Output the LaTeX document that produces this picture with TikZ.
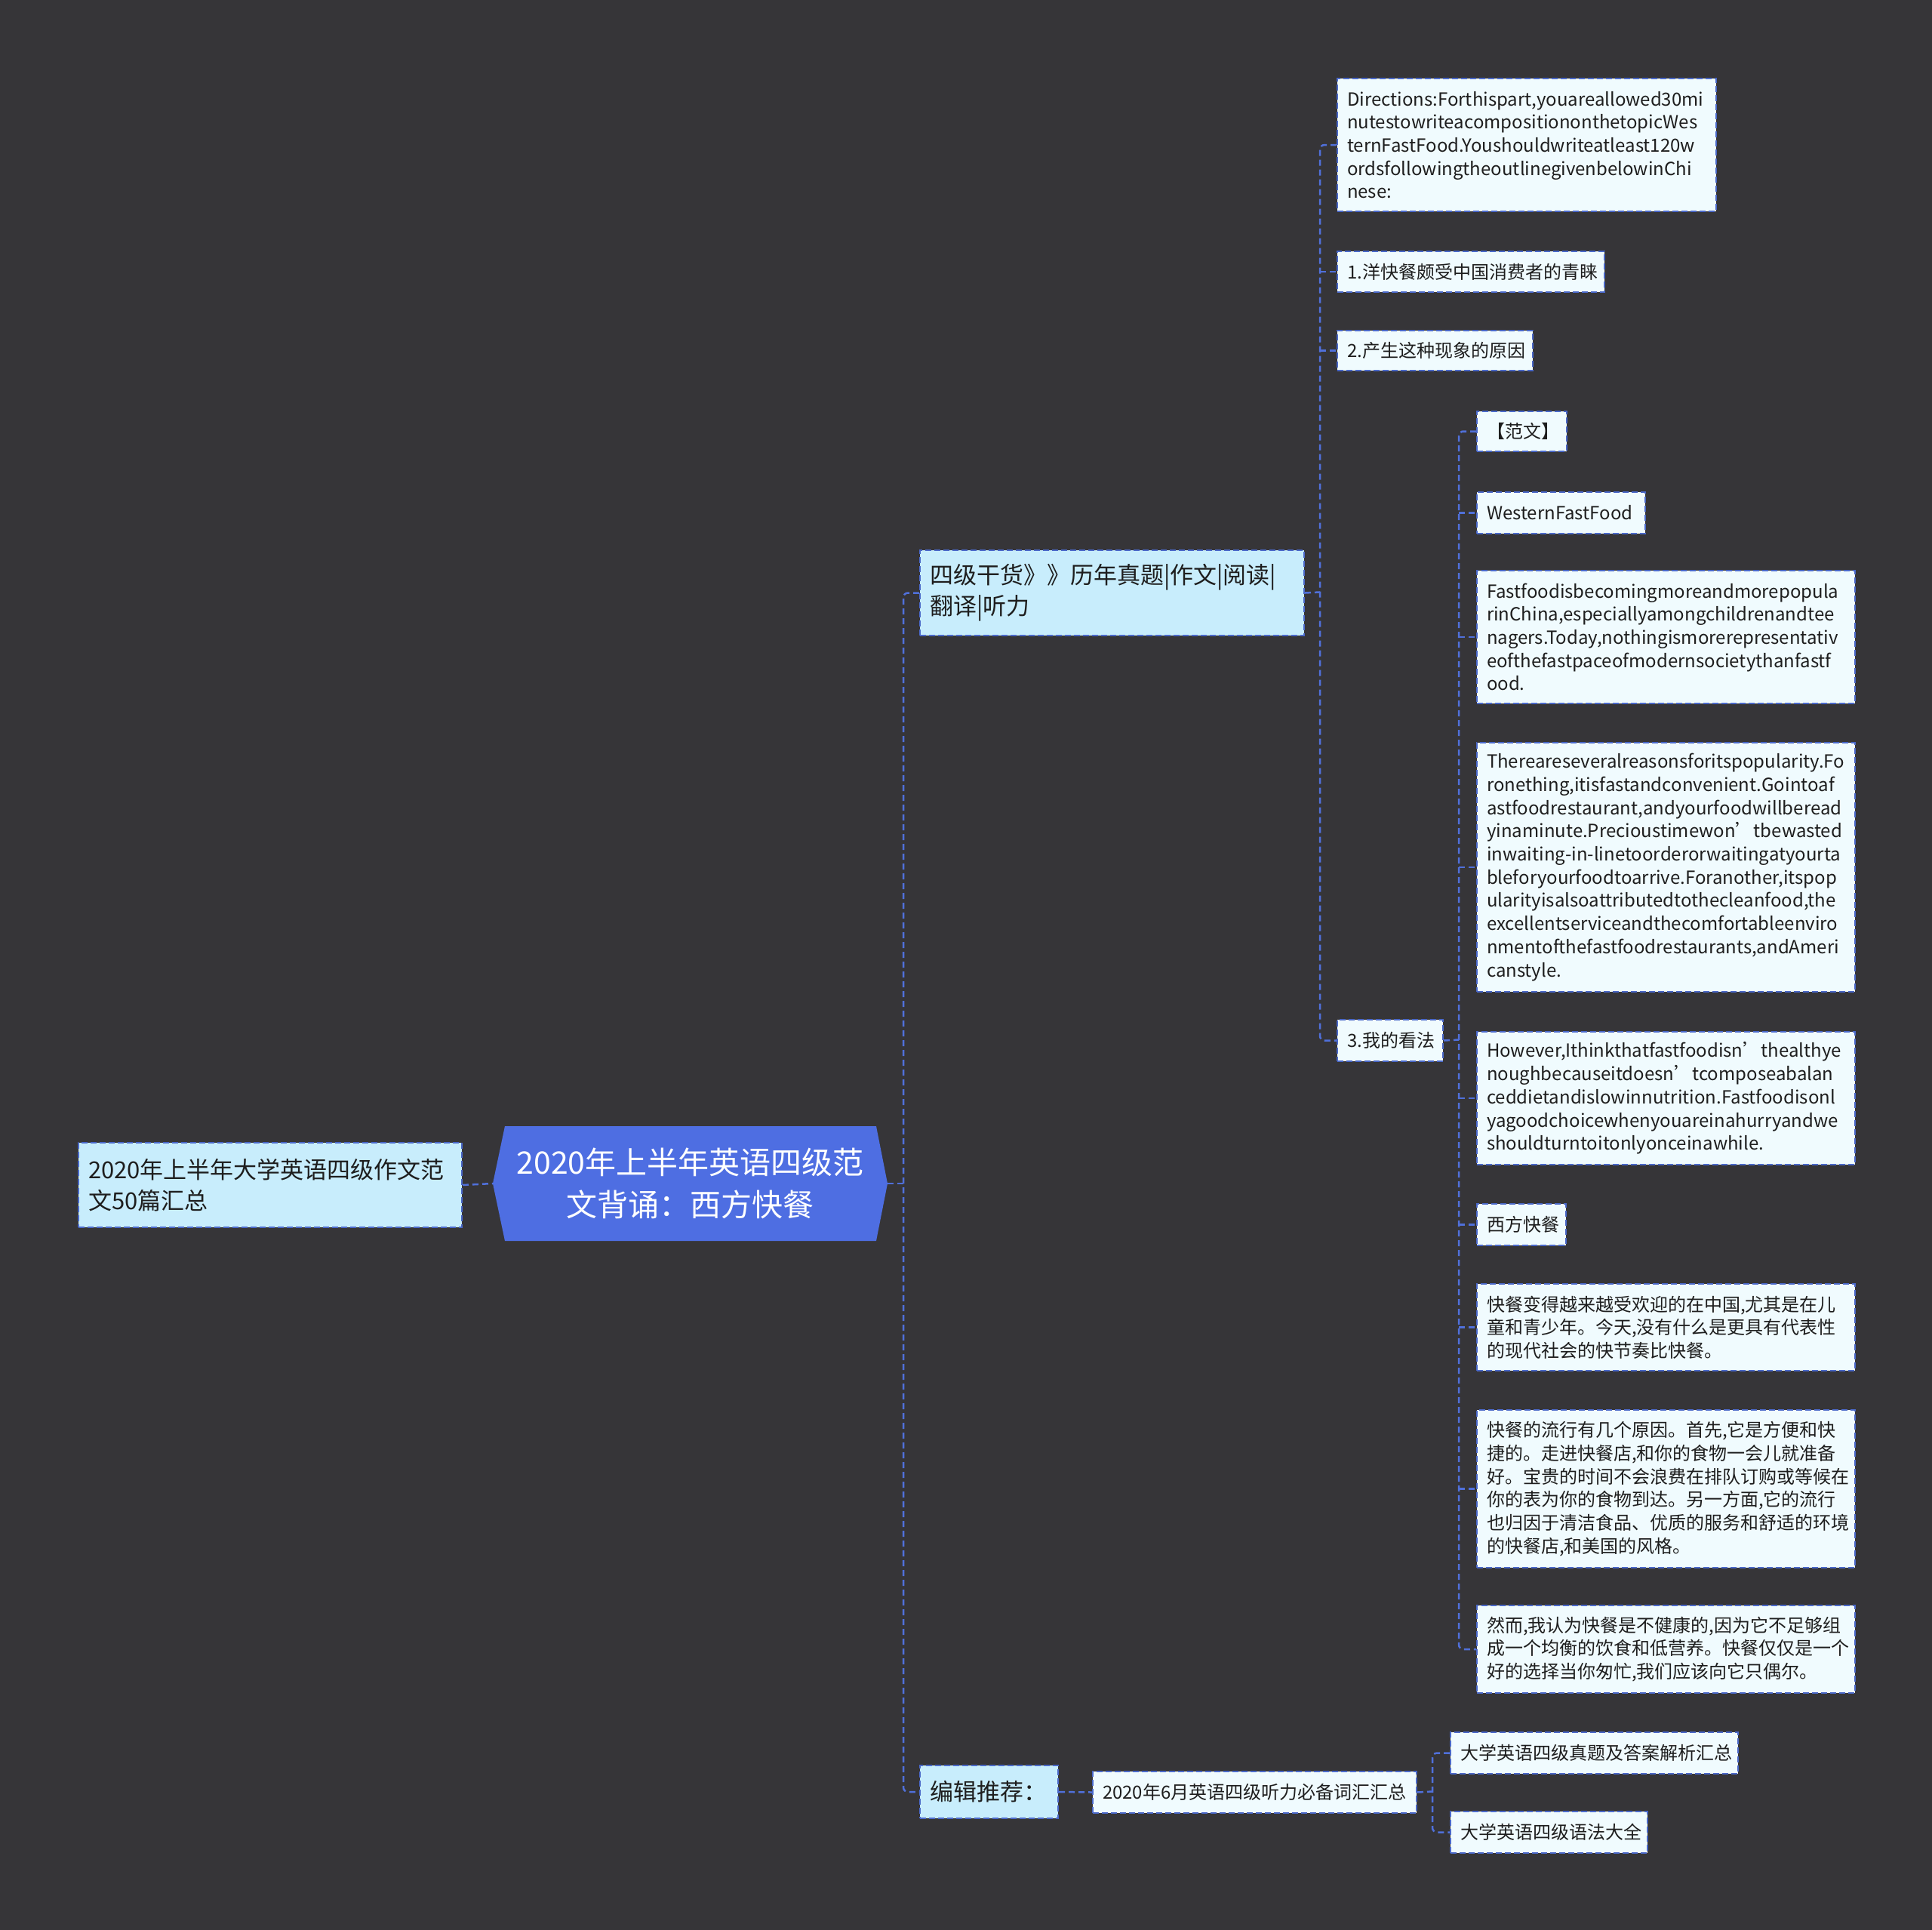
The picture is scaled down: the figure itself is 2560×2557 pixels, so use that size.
\documentclass[tikz,border=0pt]{standalone}
\usepackage{fontspec}
\setmainfont{Noto Sans CJK SC}[HyphenChar=None]
\definecolor{bgc}{RGB}{54,53,56}
\definecolor{rootc}{RGB}{78,110,226}
\definecolor{lvlc}{RGB}{200,237,252}
\definecolor{leafc}{RGB}{240,251,254}
\definecolor{bordc}{RGB}{74,104,200}
\definecolor{connc}{RGB}{80,112,218}
\definecolor{txtc}{RGB}{30,30,30}
\newcommand{\leaffont}{\fontsize{24}{30.7}\selectfont}
\newcommand{\lvlfont}{\fontsize{31}{41}\selectfont}
\newcommand{\rootfont}{\fontsize{41}{56}\selectfont}
\tikzset{
  box/.style={draw=bordc, line width=2pt, dash pattern=on 8pt off 4pt, anchor=north west,
    inner xsep=13pt, inner ysep=0pt, align=left, text=txtc},
  leafbox/.style={box, fill=leafc, font=\leaffont},
  lvlbox/.style={box, fill=lvlc, font=\lvlfont},
  conn/.style={draw=connc, line width=2.5pt, dash pattern=on 8pt off 5pt},
  rootnode/.style={minimum width=523pt, minimum height=153pt, inner sep=0pt, align=center,
    text=white, font=\rootfont},
}
\newcommand{\bx}[7]{%
  \pgfmathsetmacro\bw{#5-#3}\pgfmathsetmacro\bh{#6-#4}\pgfmathsetmacro\tw{\bw-26}%
  \node[#1, minimum width=\bw pt, minimum height=\bh pt, text width=\tw pt] (#2) at (#3,#4) {#7};}
\begin{document}
\begin{tikzpicture}[x=1pt,y=-1pt]
\useasboundingbox (0,0) rectangle (2560,2557);
\fill[bgc] (0,0) rectangle (2560,2557);
% root
\fill[rootc] (653,1568) -- (669,1492) -- (1161,1492) -- (1176,1568) -- (1161,1644) -- (669,1644) -- cycle;
\node[rootnode] (root) at (914.5,1568) {2020年上半年英语四级范\\文背诵：西方快餐};
% left
\bx{lvlbox}{L}{103}{1513}{611}{1625}{2020年上半年大学英语四级作文范\\文50篇汇总}
% level 1
\bx{lvlbox}{B1}{1218}{728}{1727}{841}{四级干货》》历年真题|作文|阅读|\\翻译|听力}
\bx{lvlbox}{B2}{1218}{2338}{1401}{2408}{编辑推荐：}
% B1 children
\bx{leafbox}{D}{1771}{103}{2273}{279}{Directions:Forthispart,youareallowed30mi\\nutestowriteacompositiononthetopicWes\\ternFastFood.Youshouldwriteatleast120w\\ordsfollowingtheoutlinegivenbelowinChi\\nese:}
\bx{leafbox}{C1}{1771}{332}{2125}{386}{1.洋快餐颇受中国消费者的青睐}
\bx{leafbox}{C2}{1771}{437}{2030}{490}{2.产生这种现象的原因}
\bx{leafbox}{C3}{1771}{1350}{1911}{1405}{3.我的看法}
% C3 children
\bx{leafbox}{F1}{1956}{544}{2075}{597}{【范文】}
\bx{leafbox}{F2}{1956}{651}{2179}{706}{WesternFastFood}
\bx{leafbox}{F3}{1956}{755}{2457}{931}{Fastfoodisbecomingmoreandmorepopula\\rinChina,especiallyamongchildrenandtee\\nagers.Today,nothingismorerepresentativ\\eofthefastpaceofmodernsocietythanfastf\\ood.}
\bx{leafbox}{F4}{1956}{983}{2457}{1313}{Thereareseveralreasonsforitspopularity.Fo\\ronething,itisfastandconvenient.Gointoaf\\astfoodrestaurant,andyourfoodwillberead\\yinaminute.Precioustimewon’tbewasted\\inwaiting-in-linetoorderorwaitingatyourta\\bleforyourfoodtoarrive.Foranother,itspop\\ularityisalsoattributedtothecleanfood,the\\excellentserviceandthecomfortableenviro\\nmentofthefastfoodrestaurants,andAmeri\\canstyle.}
\bx{leafbox}{F5}{1956}{1366}{2457}{1542}{However,Ithinkthatfastfoodisn’thealthye\\noughbecauseitdoesn’tcomposeabalan\\ceddietandislowinnutrition.Fastfoodisonl\\yagoodchoicewhenyouareinahurryandwe\\shouldturntoitonlyonceinawhile.}
\bx{leafbox}{F6}{1956}{1594}{2074}{1649}{西方快餐}
\bx{leafbox}{F7}{1956}{1700}{2457}{1815}{快餐变得越来越受欢迎的在中国,尤其是在儿\\童和青少年。今天,没有什么是更具有代表性\\的现代社会的快节奏比快餐。}
\bx{leafbox}{F8}{1956}{1867}{2457}{2076}{快餐的流行有几个原因。首先,它是方便和快\\捷的。走进快餐店,和你的食物一会儿就准备\\好。宝贵的时间不会浪费在排队订购或等候在\\你的表为你的食物到达。另一方面,它的流行\\也归因于清洁食品、优质的服务和舒适的环境\\的快餐店,和美国的风格。}
\bx{leafbox}{F9}{1956}{2126}{2457}{2242}{然而,我认为快餐是不健康的,因为它不足够组\\成一个均衡的饮食和低营养。快餐仅仅是一个\\好的选择当你匆忙,我们应该向它只偶尔。}
% B2 children
\bx{leafbox}{E1}{1447}{2346}{1876}{2401}{2020年6月英语四级听力必备词汇汇总}
\bx{leafbox}{E2}{1921}{2294}{2302}{2349}{大学英语四级真题及答案解析汇总}
\bx{leafbox}{E3}{1921}{2399}{2182}{2454}{大学英语四级语法大全}
% spines
\coordinate (sp1) at (1197,1568);
\coordinate (sp2) at (1749,784.5);
\coordinate (sp3) at (1933,1377.5);
\coordinate (sp4) at (1898,2373.5);
% connectors
\draw[conn] (L.east) -- (root.west);
\draw[conn] (root.east) -- (sp1);
\draw[conn, rounded corners=6pt] (B1.west) -| (sp1) |- (B2.west);
\draw[conn] (B1.east) -- (sp2);
\draw[conn, rounded corners=6pt] (D.west) -| (sp2) |- (C3.west);
\foreach \n in {C1,C2} \draw[conn] (sp2 |- \n.west) -- (\n.west);
\draw[conn] (C3.east) -- (sp3);
\draw[conn, rounded corners=6pt] (F1.west) -| (sp3) |- (F9.west);
\foreach \n in {F2,F3,F4,F5,F6,F7,F8} \draw[conn] (sp3 |- \n.west) -- (\n.west);
\draw[conn] (B2.east) -- (E1.west);
\draw[conn] (E1.east) -- (sp4);
\draw[conn, rounded corners=6pt] (E2.west) -| (sp4) |- (E3.west);
\end{tikzpicture}
\end{document}
